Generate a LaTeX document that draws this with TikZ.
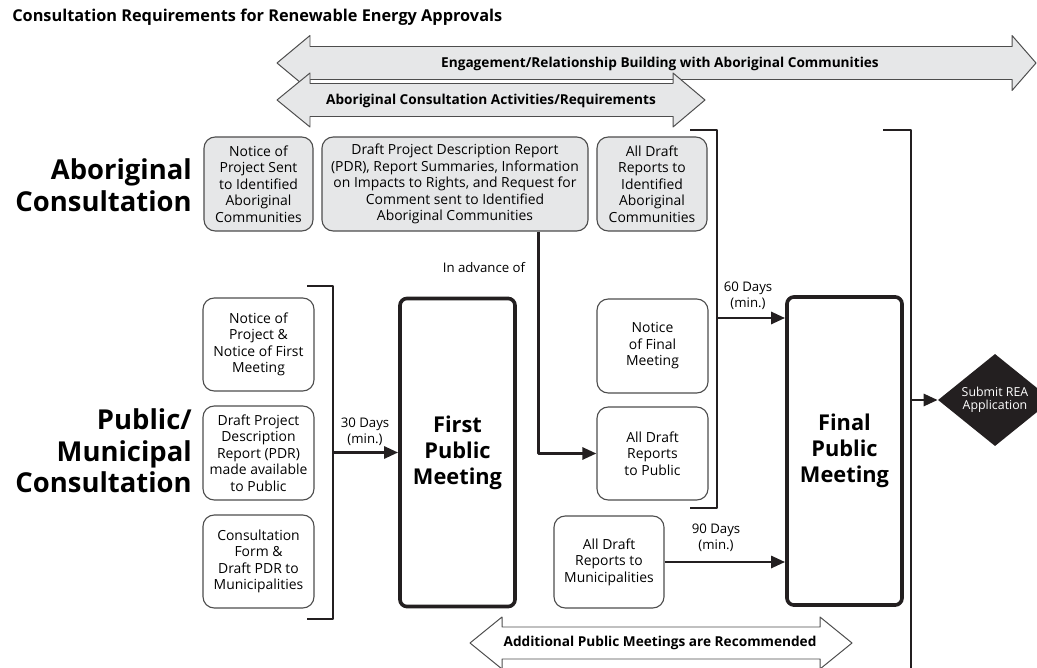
\documentclass[tikz,border=0pt]{standalone}
\usepackage{fontspec}
\setmainfont{Open Sans}
\usetikzlibrary{arrows.meta,shapes.geometric}
\definecolor{boxgray}{HTML}{E6E7E8}
\definecolor{edgegray}{HTML}{4D4D4D}
\definecolor{inkblack}{HTML}{231F20}
\begin{document}
\begin{tikzpicture}[x=0.025cm, y=-0.025cm, >={Triangle[length=10pt,width=8.5pt]}, line join=round,
    every node/.style={inner sep=0pt, align=center},
    boxtxt/.style={font=\fontsize{9.9}{11.7}\selectfont},
    abox/.style={draw=edgegray, line width=0.8pt, rounded corners=8pt, fill=boxgray, boxtxt,
        minimum width=2.75cm, minimum height=2.35cm},
    pbox/.style={abox, fill=white},
    meetbox/.style={draw=inkblack, line width=2.6pt, rounded corners=5pt,
        minimum width=2.875cm, minimum height=7.7cm, font=\fontsize{15.5}{18.5}\selectfont\bfseries},
    sidelabel/.style={anchor=east, align=right, font=\fontsize{19.5}{22.5}\selectfont\bfseries},
    daylabel/.style={font=\fontsize{9.4}{11.4}\selectfont},
    bandtxt/.style={font=\fontsize{9.7}{11.4}\selectfont\bfseries},
    band/.style={draw=edgegray, line width=0.7pt, fill=boxgray},
    bracket/.style={draw=inkblack, line width=2.1pt},
    link/.style={draw=inkblack, line width=2.1pt, ->}]
\useasboundingbox (0,0) rectangle (1037,668);
\node[anchor=west, font=\fontsize{11.6}{13}\selectfont\bfseries] (title) at (12,17) {Consultation Requirements for Renewable Energy Approvals};

\draw[band] (277,63) -- (310,35.5) -- (310,46.5) -- (1012,46.5) -- (1012,35.5) -- (1036,63) -- (1012,90.5) -- (1012,79.5) -- (310,79.5) -- (310,90.5) -- cycle;
\node[bandtxt] (engage) at (660,64) {Engagement/Relationship Building with Aboriginal Communities};
\draw[band] (277,100) -- (310,73) -- (310,83.5) -- (673,83.5) -- (673,73) -- (705,100) -- (673,127) -- (673,116.5) -- (310,116.5) -- (310,127) -- cycle;
\node[bandtxt] (activities) at (491,101) {Aboriginal Consultation Activities/Requirements};
\draw[band, fill=white] (470,643) -- (502,617) -- (502,627) -- (820,627) -- (820,617) -- (852,643) -- (820,669) -- (820,659) -- (502,659) -- (502,669) -- cycle;
\node[bandtxt] (additional) at (660,643) {Additional Public Meetings are Recommended};

\node[sidelabel] (aborig) at (192,185) {Aboriginal\\Consultation};
\node[sidelabel] (public) at (192,451) {Public/\\Municipal\\Consultation};

\node[abox, minimum width=2.725cm] (noticeproj) at (258.5,184) {Notice of\\Project Sent\\to Identified\\Aboriginal\\Communities};
\node[abox, minimum width=6.65cm] (pdr) at (455,184) {Draft Project Description Report\\(PDR), Report Summaries, Information\\on Impacts to Rights, and Request for\\Comment sent to Identified\\Aboriginal Communities};
\node[abox] (draftabor) at (652,184) {All Draft\\Reports to\\Identified\\Aboriginal\\Communities};

\node[pbox, minimum width=2.775cm, minimum height=2.325cm] (noticefirst) at (258.5,344.5) {Notice of\\Project \&\\Notice of First\\Meeting};
\node[pbox, minimum width=2.775cm] (pdrpublic) at (258.5,453) {Draft Project\\Description\\Report (PDR)\\made available\\to Public};
\node[pbox, minimum width=2.775cm, minimum height=2.325cm] (consform) at (258.5,561.5) {Consultation\\Form \&\\Draft PDR to\\Municipalities};

\node[meetbox] (first) at (457.5,452.5) {First\\Public\\Meeting};
\node[pbox, minimum width=2.775cm] (noticefinal) at (652.5,346) {Notice\\of Final\\Meeting};
\node[pbox, minimum width=2.775cm, minimum height=2.325cm] (draftpublic) at (652.5,453.5) {All Draft\\Reports\\to Public};
\node[pbox, minimum height=2.3cm] (draftmuni) at (609,562) {All Draft\\Reports to\\Municipalities};
\node[meetbox] (final) at (844.5,451) {Final\\Public\\Meeting};
\node[diamond, fill=inkblack, minimum width=2.85cm, minimum height=1.85cm, text=white,
    font=\fontsize{8.8}{9.4}\selectfont] (submit) at (995,400) {Submit REA\\Application};

\draw[bracket] (307,286) -| (333,619) -- (307,619);
\coordinate (lbr) at (333,452.5);
\draw[bracket] (690,130) -| (717,508) -- (690,508);
\coordinate (mbr) at (717,318);
\draw[bracket] (883,130) -| (911,690);
\coordinate (rbr) at (911,400);

\draw[link] (lbr) -- (first.west);
\node[daylabel] (d30) at (365,432) {30 Days\\(min.)};
\draw[link] (mbr) -- (mbr -| final.west);
\node[daylabel] (d60) at (748,296) {60 Days\\(min.)};
\draw[link] (draftmuni.east) -- (draftmuni.east -| final.west);
\node[daylabel] (d90) at (716,538) {90 Days\\(min.)};
\draw[link] ([xshift=2.075cm]pdr.south) |- (draftpublic.west);
\node[daylabel] (advance) at (484,268) {In advance of};
\draw[link] (rbr) -- (submit.west);
\end{tikzpicture}
\end{document}
